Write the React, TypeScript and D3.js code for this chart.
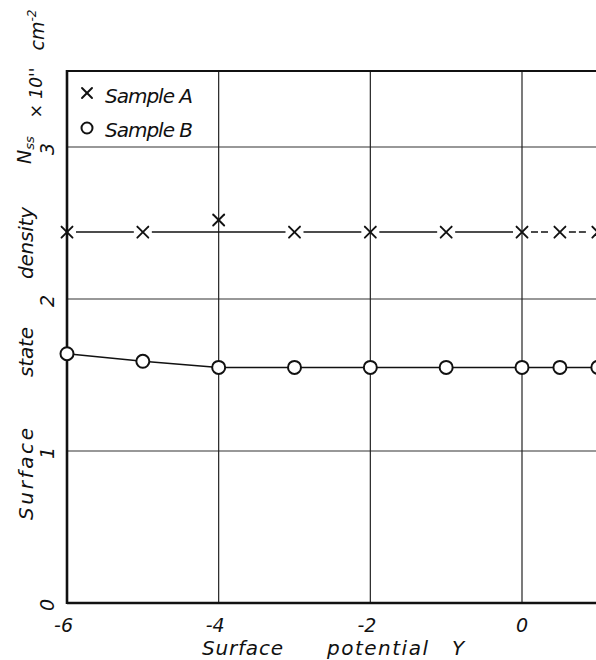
import React from "react";
import * as d3 from "d3";

// ---- data ----
const potentialA = [-6, -5, -4, -3, -2, -1, 0, 0.5, 1];
const densityA = [2.44, 2.44, 2.52, 2.44, 2.44, 2.44, 2.44, 2.44, 2.44];
const fitA = [2.44, 2.44, 2.44, 2.44, 2.44, 2.44, 2.44, 2.44, 2.44];
const potentialB = [-6, -5, -4, -3, -2, -1, 0, 0.5, 1];
const densityB = [1.64, 1.59, 1.55, 1.55, 1.55, 1.55, 1.55, 1.55, 1.55];
const xTicks = [-6, -4, -2, 0];
const xTickLabels = ["-6", "-4", "-2", "0"];
const yTicks = [0, 1, 2, 3];
const yTickLabels = ["0", "1", "2", "3"];
const legendLabels = ["Sample A", "Sample B"];

const W = 596;
const H = 660;
const FONT = "'DejaVu Sans', sans-serif";
const INK = "#111";

export default function App() {
  const x = d3.scaleLinear().domain([-6, 0]).range([67, 522]);
  const y = d3.scaleLinear().domain([0, 3.5]).range([603, 71]);
  const xLeft = x(-6);
  const xRight = W + 5;

  const ptsA = potentialA.map((p, i) => [x(p), y(densityA[i])] as [number, number]);
  const fitPts = potentialA.map((p, i) => [x(p), y(fitA[i])] as [number, number]);
  const onLine = densityA.map((d, i) => Math.abs(d - fitA[i]) < 0.02);
  const ptsB = potentialB.map((p, i) => [x(p), y(densityB[i])] as [number, number]);

  // Sample A: fitted line, broken around markers that sit on it
  const gap = 9;
  const segA = fitPts.slice(1).map((p, i) => {
    const a = fitPts[i];
    const dx = p[0] - a[0];
    const dy = p[1] - a[1];
    const len = Math.hypot(dx, dy);
    const ux = dx / len;
    const uy = dy / len;
    const g1 = onLine[i] ? gap : 0;
    const g2 = onLine[i + 1] ? gap : 0;
    return {
      x1: a[0] + ux * g1,
      y1: a[1] + uy * g1,
      x2: p[0] - ux * g2,
      y2: p[1] - uy * g2,
      dashed: potentialA[i] >= 0,
    };
  });
  const lineB = d3.line<[number, number]>()(ptsB) || "";

  const cross = (cx: number, cy: number, s: number, key: string) => (
    <g key={key} stroke={INK} strokeWidth={1.9} strokeLinecap="round">
      <line x1={cx - s} y1={cy - s} x2={cx + s} y2={cy + s} />
      <line x1={cx - s} y1={cy + s} x2={cx + s} y2={cy - s} />
    </g>
  );

  const yTitle = [
    { t: "Surface", c: 474, len: 92, bx: 33, fs: 20 },
    { t: "state", c: 352, len: 50, bx: 33, fs: 20 },
    { t: "density", c: 243, len: 72, bx: 33, fs: 20 },
  ];

  return (
    <svg
      width={W}
      height={H}
      style={{ position: "absolute", left: 0, top: 0, background: "#fff" }}
      fontFamily={FONT}
      fontStyle="italic"
      fontWeight={300}
    >
      <rect x={0} y={0} width={W} height={H} fill="#fff" />
      {/* grid */}
      {yTicks.filter((t) => t > 0).map((t) => (
        <line key={"gy" + t} x1={xLeft} x2={xRight} y1={y(t)} y2={y(t)} stroke="#333" strokeWidth={1.1} />
      ))}
      {xTicks.filter((t) => t > -6).map((t) => (
        <line key={"gx" + t} x1={x(t)} x2={x(t)} y1={y(3.5)} y2={y(0)} stroke="#222" strokeWidth={1.2} />
      ))}
      {/* frame */}
      <line x1={xLeft} x2={xRight} y1={y(3.5)} y2={y(3.5)} stroke={INK} strokeWidth={2.2} />
      <line x1={xLeft} x2={xRight} y1={y(0)} y2={y(0)} stroke={INK} strokeWidth={2.6} />
      <line x1={xLeft} x2={xLeft} y1={y(3.5) - 1} y2={y(0) + 1} stroke={INK} strokeWidth={2.6} />

      {/* Sample A */}
      {segA.map((s, i) => (
        <line
          key={"sa" + i}
          x1={s.x1}
          y1={s.y1}
          x2={s.x2}
          y2={s.y2}
          stroke={INK}
          strokeWidth={1.5}
          strokeDasharray={s.dashed ? "7,3" : undefined}
        />
      ))}
      {ptsA.map((p, i) => cross(p[0], p[1], 5.5, "ca" + i))}

      {/* Sample B */}
      <path d={lineB} fill="none" stroke={INK} strokeWidth={1.5} />
      {ptsB.map((p, i) => (
        <circle key={"cb" + i} cx={p[0]} cy={p[1]} r={6.5} fill="#fff" stroke={INK} strokeWidth={2} />
      ))}

      {/* legend */}
      {cross(87, 93, 5, "lgA")}
      <text x={105} y={103} fontSize={20} fill={INK} textLength={88} lengthAdjust="spacing">
        {legendLabels[0]}
      </text>
      <circle cx={87} cy={128} r={5.5} fill="#fff" stroke={INK} strokeWidth={2} />
      <text x={105} y={137} fontSize={20} fill={INK} textLength={88} lengthAdjust="spacing">
        {legendLabels[1]}
      </text>

      {/* x tick labels */}
      {xTicks.map((t, i) => (
        <text key={"xt" + t} x={x(t) + 6} y={632} fontSize={19} textAnchor="end" fill={INK}>
          {xTickLabels[i]}
        </text>
      ))}
      {/* y tick labels (rotated) */}
      {yTicks.map((t, i) => (
        <text
          key={"yt" + t}
          transform={`translate(54,${y(t) + 2}) rotate(-90)`}
          fontSize={19}
          textAnchor="middle"
          fill={INK}
        >
          {yTickLabels[i]}
        </text>
      ))}

      {/* x title */}
      <text x={202} y={655} fontSize={20} fill={INK} textLength={81} lengthAdjust="spacing">Surface</text>
      <text x={327} y={655} fontSize={20} fill={INK} textLength={101} lengthAdjust="spacing">potential</text>
      <text x={452} y={655} fontSize={20} fill={INK}>Y</text>

      {/* y title */}
      {yTitle.map((d) => (
        <text
          key={d.t}
          transform={`translate(${d.bx},${d.c}) rotate(-90)`}
          fontSize={d.fs}
          textAnchor="middle"
          fill={INK}
          textLength={d.len}
          lengthAdjust="spacing"
        >
          {d.t}
        </text>
      ))}
      <text transform="translate(31,150) rotate(-90)" fontSize={19} textAnchor="middle" fill={INK}>
        N<tspan fontSize={13} dy={3}>ss</tspan>
      </text>
      <text transform="translate(42,93) rotate(-90)" fontSize={17} textAnchor="middle" fill={INK}>
        × 10''
      </text>
      <text transform="translate(44,30) rotate(-90)" fontSize={19} textAnchor="middle" fill={INK}>
        cm<tspan fontSize={12} dy={-8}>-2</tspan>
      </text>
    </svg>
  );
}
